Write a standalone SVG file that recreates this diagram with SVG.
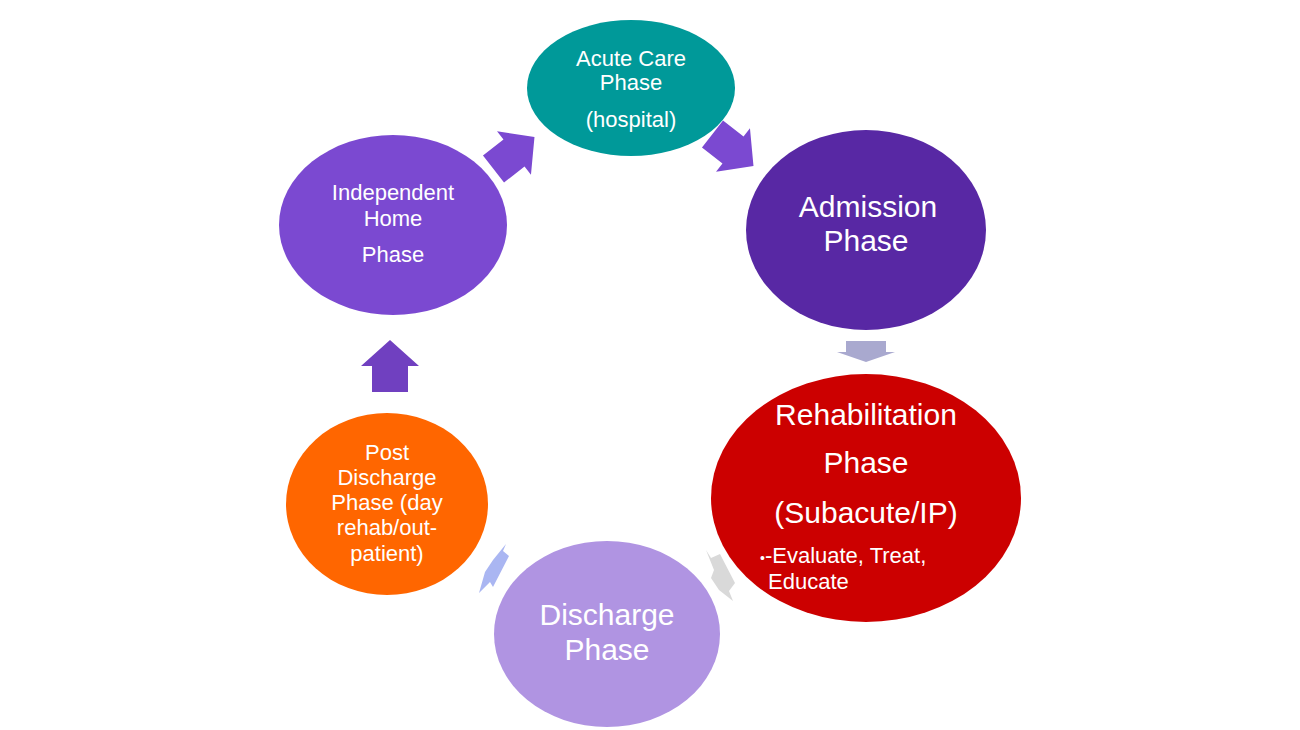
<svg xmlns="http://www.w3.org/2000/svg" width="1300" height="730" viewBox="0 0 1300 730">
<style>
text{font-family:"Liberation Sans",Arial,sans-serif;fill:#fff;text-anchor:middle}
.s{font-size:22px}.l{font-size:30px}
</style>
<defs>
<path id="arr" d="M-26,-18 L0,-18 L0,-29 L26,0 L0,29 L0,18 L-26,18 Z"/>
</defs>
<rect width="1300" height="730" fill="#fff"/>
<g id="connectors">
<use href="#arr" fill="#7B49D1" transform="translate(514,153) rotate(-38) scale(1,0.95)"/>
<use href="#arr" fill="#7B49D1" transform="translate(733,150) rotate(38) scale(1,0.95)"/>
<path d="M846,341 L886,341 L886,352 L895,352 L866,362 L837,352 L846,352 Z" fill="#A9A9CF"/>
<use href="#arr" fill="#7040C0" transform="translate(390,366) rotate(-90)"/>
<polygon points="706,550 711,558 720,554 735,583 729,591 733,601 719,590 711,578 714,570" fill="#D9D9D9"/>
<polygon points="506,544 503,551 509,556 493,587 490,582 479,593 485,572 493,560" fill="#AAB6F2"/>
</g>
<g id="acute"><ellipse cx="631" cy="88" rx="104" ry="68" fill="#009999"/>
<text class="s" x="631" y="66">Acute Care</text><text class="s" x="631" y="90">Phase</text><text class="s" x="631" y="127">(hospital)</text></g>
<g id="admission"><ellipse cx="866" cy="230" rx="120" ry="100" fill="#5828A4"/>
<text class="l" x="868" y="217">Admission</text><text class="l" x="866" y="251">Phase</text></g>
<g id="rehab"><ellipse cx="866" cy="498" rx="155" ry="124" fill="#CC0000"/>
<text class="l" x="866" y="425">Rehabilitation</text><text class="l" x="866" y="473">Phase</text><text class="l" x="866" y="523">(Subacute/IP)</text>
<text class="s" x="760" y="563" style="text-anchor:start"><tspan font-size="14">•</tspan>-Evaluate, Treat,</text>
<text class="s" x="768" y="589" style="text-anchor:start">Educate</text></g>
<g id="discharge"><ellipse cx="607" cy="634" rx="113" ry="93" fill="#B094E2"/>
<text class="l" x="607" y="625">Discharge</text><text class="l" x="607" y="660">Phase</text></g>
<g id="post"><ellipse cx="387" cy="504" rx="101" ry="91" fill="#FF6600"/>
<text class="s" x="387" y="460">Post</text><text class="s" x="387" y="485">Discharge</text><text class="s" x="387" y="510">Phase (day</text><text class="s" x="387" y="535">rehab/out-</text><text class="s" x="387" y="561">patient)</text></g>
<g id="independent"><ellipse cx="393" cy="225" rx="114" ry="90" fill="#7B49D1"/>
<text class="s" x="393" y="200">Independent</text><text class="s" x="393" y="226">Home</text><text class="s" x="393" y="262">Phase</text></g>
</svg>
